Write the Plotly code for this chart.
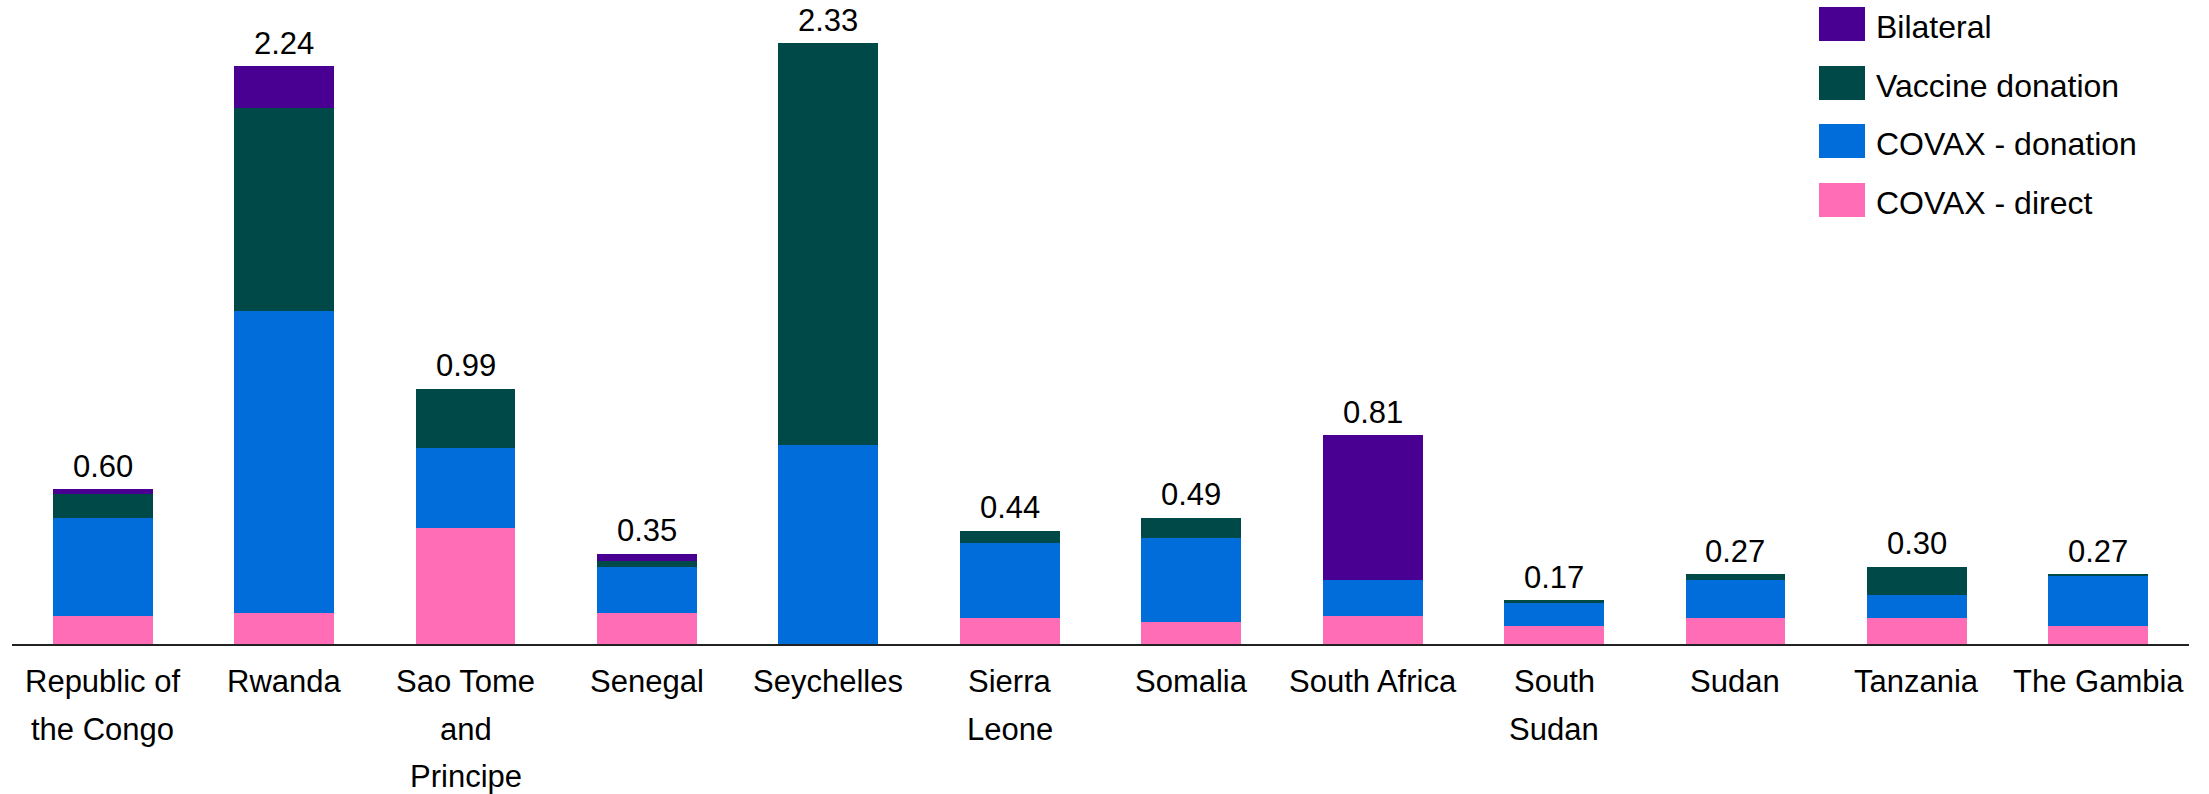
import plotly.graph_objects as go

# Vaccine deliveries by source, per country
countries = ["Republic of the Congo", "Rwanda", "Sao Tome and Principe", "Senegal",
             "Seychelles", "Sierra Leone", "Somalia", "South Africa", "South Sudan",
             "Sudan", "Tanzania", "The Gambia"]
tick_labels = ["Republic of<br>the Congo", "Rwanda", "Sao Tome<br>and<br>Principe", "Senegal",
               "Seychelles", "Sierra<br>Leone", "Somalia", "South Africa", "South<br>Sudan",
               "Sudan", "Tanzania", "The Gambia"]

covax_direct = [0.11, 0.12, 0.45, 0.12, 0.00, 0.10, 0.085, 0.11, 0.07, 0.10, 0.10, 0.07]
covax_donation = [0.38, 1.17, 0.31, 0.18, 0.77, 0.29, 0.325, 0.14, 0.09, 0.15, 0.09, 0.195]
vaccine_donation = [0.09, 0.79, 0.23, 0.02, 1.56, 0.05, 0.08, 0.00, 0.01, 0.02, 0.11, 0.005]
bilateral = [0.02, 0.16, 0.00, 0.03, 0.00, 0.00, 0.00, 0.56, 0.00, 0.00, 0.00, 0.00]

series_names = ["COVAX - direct", "COVAX - donation", "Vaccine donation", "Bilateral"]
series_values = [covax_direct, covax_donation, vaccine_donation, bilateral]
series_colors = ["#ff6db6", "#006ddb", "#004949", "#490092"]

W, H = 2209, 794
M = dict(l=12, r=20, t=20, b=150)
plot_w = W - M["l"] - M["r"]
plot_h = H - M["t"] - M["b"]

font_family = "Liberation Sans, Arial, sans-serif"

fig = go.Figure()
for name, vals, col in zip(series_names, series_values, series_colors):
    fig.add_trace(go.Bar(x=countries, y=vals, name=name, marker_color=col,
                         marker_line_width=0, hoverinfo="skip"))

totals = [sum(v) for v in zip(*series_values)]

annotations = []
# total above each stack
for c, t in zip(countries, totals):
    annotations.append(dict(x=c, y=t, xref="x", yref="y", text=f"{t:.2f}",
                            showarrow=False, yanchor="middle", yshift=23,
                            font=dict(family=font_family, size=31, color="#000")))
# category labels, one annotation per line for wider line spacing
line_offsets = [37, 85, 132.5]
for c, lab in zip(countries, tick_labels):
    for i, line in enumerate(lab.split("<br>")):
        annotations.append(dict(x=c, y=0, xref="x", yref="y", text=line,
                                showarrow=False, yanchor="middle", yshift=-line_offsets[i],
                                font=dict(family=font_family, size=31, color="#000")))

# legend drawn as swatches plus labels in the top-right corner
def px_x(X):
    return (X - M["l"]) / plot_w

def px_y(Y):
    return (H - M["b"] - Y) / plot_h

shapes = []
legend_rows = [24, 83, 141, 200]
for row_y, name, col in zip(legend_rows, series_names[::-1], series_colors[::-1]):
    shapes.append(dict(type="rect", xref="paper", yref="paper",
                       x0=px_x(1819), x1=px_x(1865), y0=px_y(row_y + 17), y1=px_y(row_y - 17),
                       fillcolor=col, line=dict(width=0)))
    annotations.append(dict(x=px_x(1874), y=px_y(row_y + 3), xref="paper", yref="paper",
                            text=name, showarrow=False, xanchor="left", yanchor="middle",
                            font=dict(family=font_family, size=32, color="#000")))

fig.update_layout(
    width=W, height=H, margin=M,
    barmode="stack", bargap=0.45,
    showlegend=False,
    plot_bgcolor="white", paper_bgcolor="white",
    xaxis=dict(showline=True, linecolor="#222", linewidth=2, showticklabels=False,
               ticks="", showgrid=False, zeroline=False),
    yaxis=dict(range=[0, 2.42], showticklabels=False, showgrid=False, zeroline=False,
               showline=False, ticks=""),
    annotations=annotations, shapes=shapes,
)

fig.write_html("out.html")
